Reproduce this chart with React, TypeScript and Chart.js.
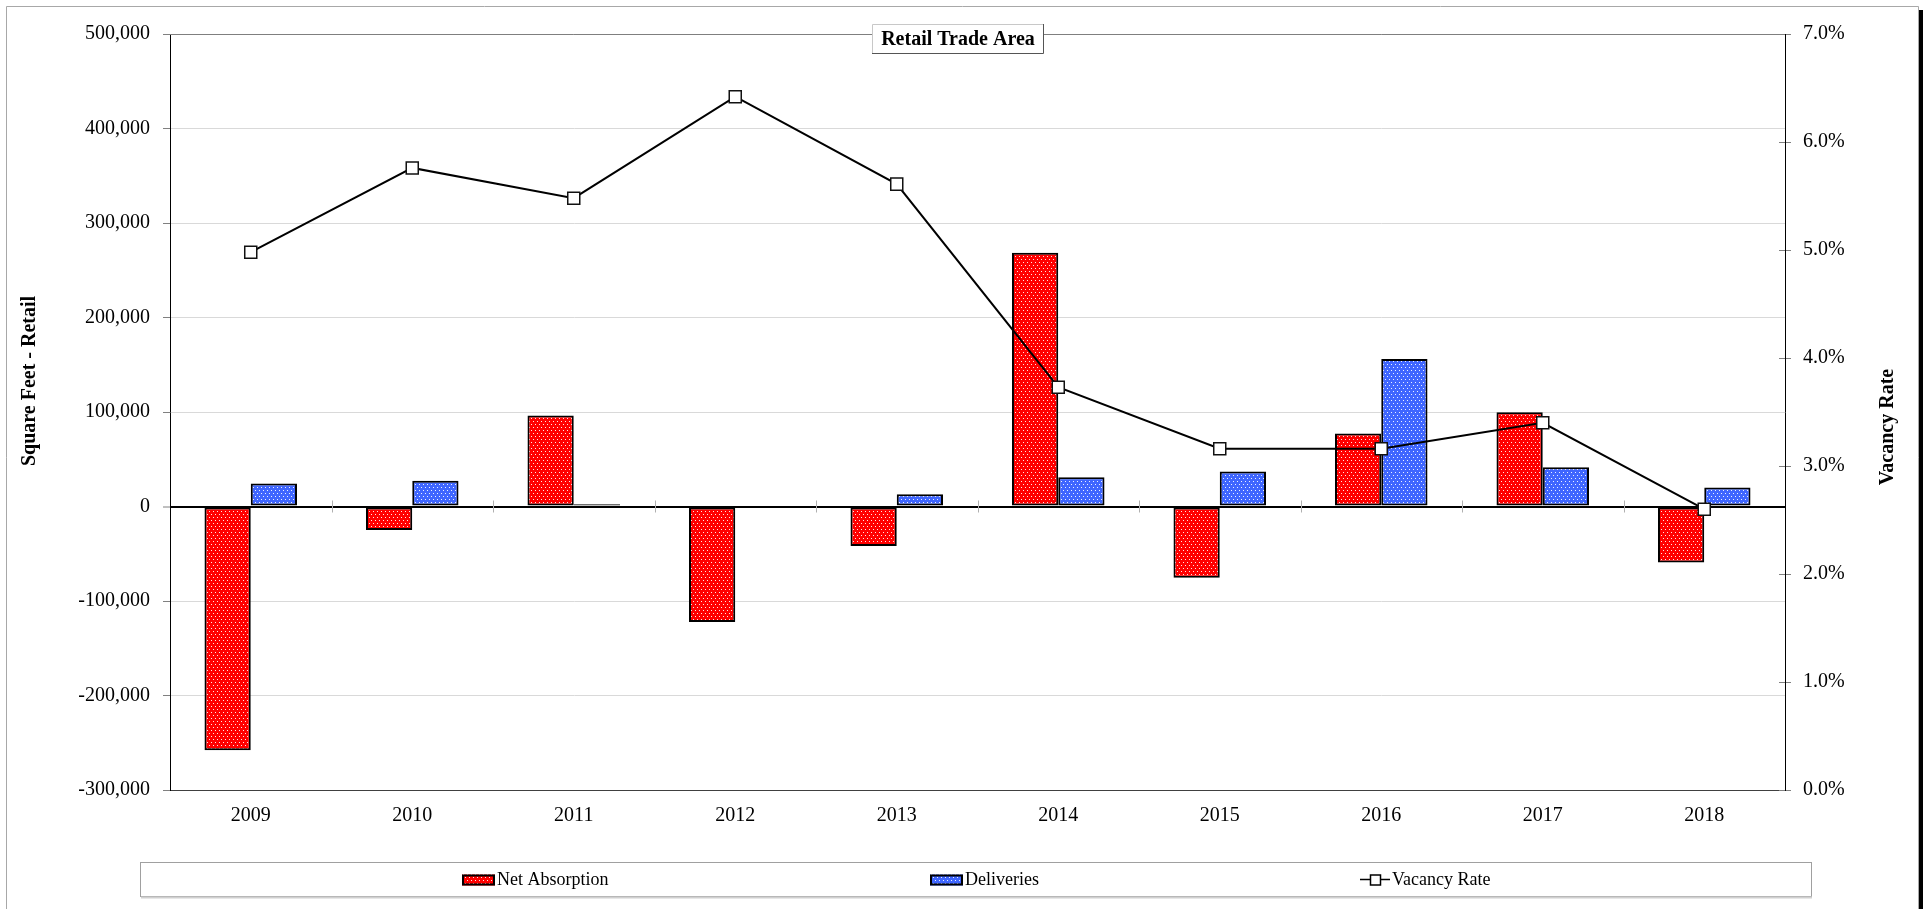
import React, { useEffect, useRef } from 'react';
import { Chart, registerables } from 'chart.js';

Chart.register(...registerables);

const years = ['2009', '2010', '2011', '2012', '2013', '2014', '2015', '2016', '2017', '2018'];
const netAbsorption = [-257900, -24800, 96200, -122300, -41700, 268400, -75400, 77200, 99800, -59300];
const deliveries = [24300, 27300, 2500, 0, 13000, 31000, 37000, 156200, 41600, 20100];
const vacancyRate = [4.98, 5.76, 5.48, 6.42, 5.61, 3.73, 3.16, 3.16, 3.4, 2.6];

const chartTitle = 'Retail Trade Area';
const leftAxisTitle = 'Square Feet - Retail';
const rightAxisTitle = 'Vacancy Rate';

const SERIF = '"Liberation Serif", "Times New Roman", serif';

function makePattern(base: string): CanvasPattern | string {
  const c = document.createElement('canvas');
  c.width = 4;
  c.height = 6;
  const g = c.getContext('2d');
  if (!g) return base;
  g.fillStyle = base;
  g.fillRect(0, 0, 4, 6);
  g.fillStyle = 'rgba(255,255,255,0.9)';
  g.fillRect(1, 1, 1, 1);
  g.fillRect(3, 4, 1, 1);
  const p = g.createPattern(c, 'repeat');
  return p || base;
}

const decorPlugin = {
  id: 'decor',
  beforeDraw(chart: any) {
    const { ctx, width, height } = chart;
    ctx.save();
    ctx.fillStyle = '#fff';
    ctx.fillRect(0, 0, width, height);
    ctx.strokeStyle = '#a8a8a8';
    ctx.lineWidth = 1;
    ctx.beginPath();
    ctx.moveTo(6.5, height);
    ctx.lineTo(6.5, 6.5);
    ctx.lineTo(1918.5, 6.5);
    ctx.lineTo(1918.5, height);
    ctx.stroke();
    ctx.fillStyle = '#000';
    ctx.fillRect(1919, 10, 4, height - 10);
    ctx.restore();
  },
  afterDraw(chart: any) {
    const { ctx, chartArea } = chart;
    const xs = chart.scales.x;
    const ys = chart.scales.y;
    const y1 = chart.scales.y1;
    ctx.save();
    // top border of plot
    ctx.strokeStyle = '#7f7f7f';
    ctx.lineWidth = 1;
    ctx.beginPath();
    ctx.moveTo(chartArea.left, chartArea.top + 0.5);
    ctx.lineTo(chartArea.right, chartArea.top + 0.5);
    ctx.stroke();
    // category ticks on zero line
    const y0 = ys.getPixelForValue(0);
    ctx.strokeStyle = '#b0b0b0';
    ctx.beginPath();
    for (let i = 0; i < years.length - 1; i++) {
      const x = Math.round((xs.getPixelForValue(i) + xs.getPixelForValue(i + 1)) / 2) + 0.5;
      ctx.moveTo(x, y0 - 6);
      ctx.lineTo(x, y0 + 6);
    }
    ctx.stroke();
    // inner ticks on right axis
    ctx.strokeStyle = '#808080';
    ctx.beginPath();
    for (let v = 0; v <= 7; v++) {
      const py = Math.round(y1.getPixelForValue(v)) + 0.5;
      ctx.moveTo(chartArea.right - 6, py);
      ctx.lineTo(chartArea.right, py);
    }
    ctx.stroke();

    // title box
    const tx = 872, ty = 24, tw = 172, th = 30;
    ctx.fillStyle = '#fff';
    ctx.fillRect(tx, ty, tw, th);
    ctx.strokeStyle = '#c8c8c8';
    ctx.beginPath();
    ctx.moveTo(tx + 0.5, ty + th);
    ctx.lineTo(tx + 0.5, ty + 0.5);
    ctx.lineTo(tx + tw, ty + 0.5);
    ctx.stroke();
    ctx.strokeStyle = '#555';
    ctx.beginPath();
    ctx.moveTo(tx + tw - 0.5, ty);
    ctx.lineTo(tx + tw - 0.5, ty + th - 0.5);
    ctx.lineTo(tx, ty + th - 0.5);
    ctx.stroke();
    ctx.fillStyle = '#000';
    ctx.font = 'bold 20px ' + SERIF;
    ctx.textAlign = 'center';
    ctx.textBaseline = 'middle';
    ctx.fillText(chartTitle, tx + tw / 2, ty + th / 2 + 1);

    // axis titles
    ctx.save();
    ctx.translate(30, 381);
    ctx.rotate(-Math.PI / 2);
    ctx.fillText(leftAxisTitle, 0, 0);
    ctx.restore();
    ctx.save();
    ctx.translate(1888, 427);
    ctx.rotate(-Math.PI / 2);
    ctx.fillText(rightAxisTitle, 0, 0);
    ctx.restore();

    // legend box
    const lx = 140, ly = 862, lw = 1672, lh = 35;
    ctx.strokeStyle = '#a0a0a0';
    ctx.lineWidth = 1;
    ctx.strokeRect(lx + 0.5, ly + 0.5, lw - 1, lh - 1);
    ctx.strokeStyle = '#d0d0d0';
    ctx.lineWidth = 2;
    ctx.beginPath();
    ctx.moveTo(lx + 1, ly + lh + 0.5);
    ctx.lineTo(lx + lw, ly + lh + 0.5);
    ctx.stroke();

    const cy = ly + lh / 2;
    const starts = [462, 930, 1360];
    ctx.font = '18px ' + SERIF;
    ctx.textAlign = 'left';
    ctx.textBaseline = 'middle';
    chart.data.datasets.forEach((ds: any, i: number) => {
      const sx = starts[i];
      if (ds.type === 'line') {
        ctx.strokeStyle = '#000';
        ctx.lineWidth = 1.5;
        ctx.beginPath();
        ctx.moveTo(sx, cy);
        ctx.lineTo(sx + 30, cy);
        ctx.stroke();
        ctx.fillStyle = '#fff';
        ctx.fillRect(sx + 10, cy - 5, 11, 11);
        ctx.strokeRect(sx + 10.5, cy - 4.5, 10, 10);
        ctx.fillStyle = '#000';
        ctx.fillText(ds.label, sx + 32, cy + 1);
      } else {
        ctx.fillStyle = ds.backgroundColor;
        ctx.fillRect(sx, cy - 5, 33, 11);
        ctx.strokeStyle = '#000';
        ctx.lineWidth = 2;
        ctx.strokeRect(sx + 1, cy - 4, 31, 9);
        ctx.fillStyle = '#000';
        ctx.fillText(ds.label, sx + 35, cy + 1);
      }
    });
    ctx.restore();
  },
};

export default function App() {
  const ref = useRef<HTMLCanvasElement>(null);

  useEffect(() => {
    const canvas = ref.current;
    if (!canvas) return;
    const red = makePattern('#ff0000');
    const blue = makePattern('#3f66ff');

    const chart = new Chart(canvas, {
      type: 'bar',
      data: {
        labels: years,
        datasets: [
          {
            type: 'bar',
            label: 'Net Absorption',
            data: netAbsorption,
            backgroundColor: red as any,
            borderColor: '#000',
            borderWidth: 2,
            borderSkipped: false,
            yAxisID: 'y',
            order: 2,
            categoryPercentage: 0.573,
            barPercentage: 1,
          },
          {
            type: 'bar',
            label: 'Deliveries',
            data: deliveries,
            backgroundColor: blue as any,
            borderColor: '#000',
            borderWidth: 2,
            borderSkipped: false,
            yAxisID: 'y',
            order: 2,
            categoryPercentage: 0.573,
            barPercentage: 1,
          },
          {
            type: 'line',
            label: 'Vacancy Rate',
            data: vacancyRate,
            yAxisID: 'y1',
            borderColor: '#000',
            borderWidth: 2,
            tension: 0,
            pointStyle: 'rect',
            pointRadius: 8.5,
            pointBackgroundColor: '#fff',
            pointBorderColor: '#111',
            pointBorderWidth: 1.5,
            order: 0,
          } as any,
        ],
      },
      options: {
        responsive: false,
        animation: false,
        devicePixelRatio: 1,
        layout: { padding: { top: 34, left: 0, right: 0, bottom: 0 } },
        plugins: {
          legend: { display: false },
          tooltip: { enabled: false },
          title: { display: false },
        },
        scales: {
          x: {
            type: 'category',
            offset: true,
            grid: { display: false, drawTicks: false },
            border: { display: true, color: '#404040', width: 1 },
            ticks: { font: { family: SERIF, size: 20 }, color: '#000', padding: 14, maxRotation: 0 },
            afterFit(s: any) {
              s.height = 119;
            },
          },
          y: {
            type: 'linear',
            position: 'left',
            min: -300000,
            max: 500000,
            grid: {
              color: (c: any) => (c.tick && c.tick.value === 0 ? '#000' : '#d9d9d9'),
              lineWidth: (c: any) => (c.tick && c.tick.value === 0 ? 2 : 1),
              tickColor: '#808080',
              tickLength: 7,
              tickWidth: 1,
            },
            border: { display: true, color: '#000', width: 1 },
            ticks: {
              stepSize: 100000,
              font: { family: SERIF, size: 20 },
              color: '#000',
              padding: 13,
              callback: (v: any) => Number(v).toLocaleString('en-US'),
            },
            afterFit(s: any) {
              s.width = 170;
            },
          },
          y1: {
            type: 'linear',
            position: 'right',
            min: 0,
            max: 7,
            grid: { drawOnChartArea: false, tickColor: '#808080', tickLength: 6, tickWidth: 1 },
            border: { display: true, color: '#000', width: 1 },
            ticks: {
              stepSize: 1,
              font: { family: SERIF, size: 20 },
              color: '#000',
              padding: 12,
              callback: (v: any) => Number(v).toFixed(1) + '%',
            },
            afterFit(s: any) {
              s.width = 142;
            },
          },
        },
      } as any,
      plugins: [decorPlugin],
    });
    return () => chart.destroy();
  }, []);

  return (
    <div style={{ position: 'fixed', left: 0, top: 0, width: 1927, height: 909, background: '#fff' }}>
      <canvas ref={ref} width={1927} height={909} style={{ display: 'block', width: 1927, height: 909 }} />
    </div>
  );
}
